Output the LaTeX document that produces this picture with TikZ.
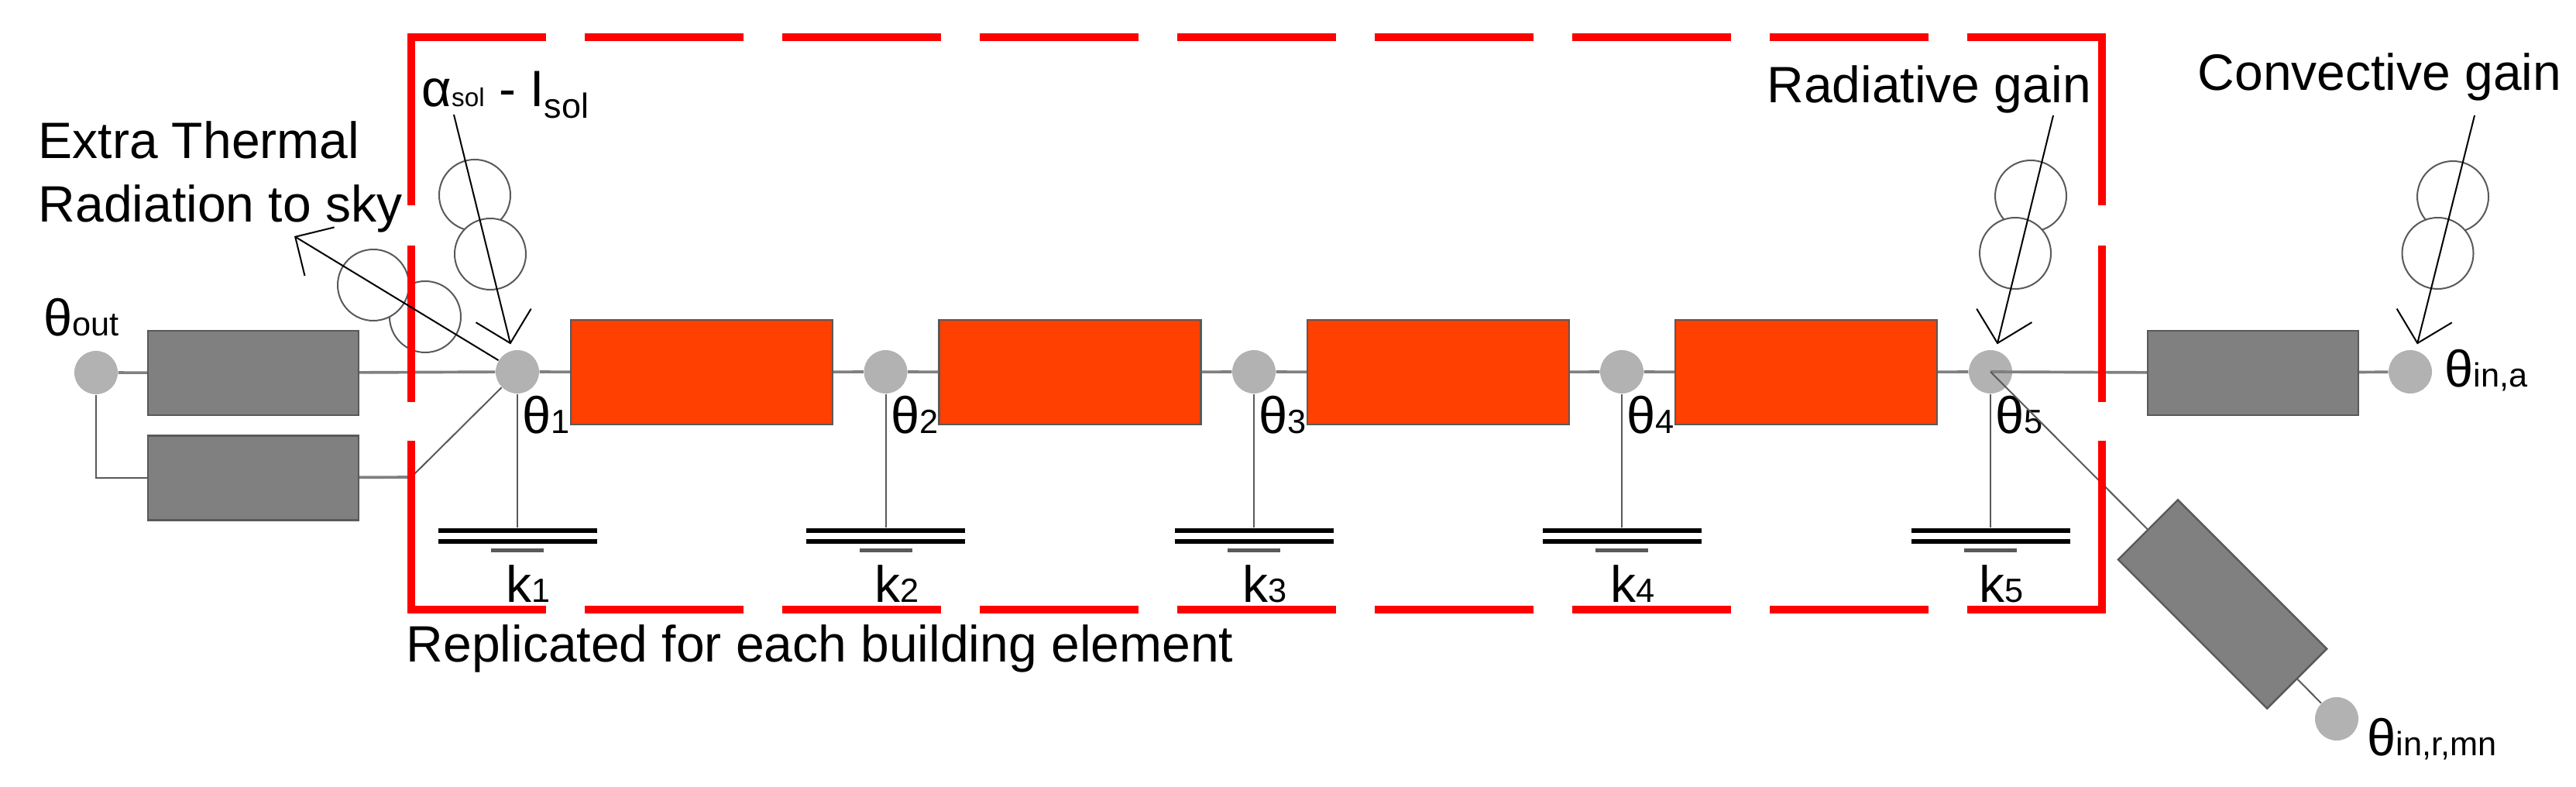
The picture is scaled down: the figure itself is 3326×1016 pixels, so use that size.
\documentclass[tikz,border=0pt]{standalone}
\usepackage{fontspec}
\setmainfont{Liberation Sans}
\usetikzlibrary{arrows.meta}

\definecolor{boxgrey}{HTML}{808080}
\definecolor{boxedge}{HTML}{595959}
\definecolor{nodegrey}{HTML}{B2B2B2}
\definecolor{wall}{HTML}{FF4000}

\tikzstyle{greybox} = [draw=boxedge, fill=boxgrey, line width=0.7pt, rectangle, inner sep=0pt, minimum width=81.6pt, minimum height=32.7pt]
\tikzstyle{wallbox} = [draw=boxedge, fill=wall, line width=0.7pt, rectangle, inner sep=0pt, minimum width=101.4pt, minimum height=40.5pt]
\tikzstyle{tempnode} = [circle, fill=nodegrey, inner sep=0pt, minimum size=16.8pt]
\tikzstyle{source} = [circle, draw=boxedge, fill=white, line width=0.6pt, inner sep=0pt, minimum size=27.6pt]
\tikzstyle{plate} = [fill=black, inner sep=0pt, minimum width=61.5pt, minimum height=1.8pt]
\tikzstyle{earthbar} = [fill=boxedge, inner sep=0pt, minimum width=20.4pt, minimum height=1.5pt]
\tikzstyle{wire} = [draw=boxgrey, line width=1.1pt]
\tikzstyle{thinwire} = [draw=boxedge, line width=0.6pt]
\tikzstyle{redframe} = [draw=red, line width=3pt]
\tikzstyle{gainarrow} = [draw=black, line width=0.6pt, -{Straight Barb[length=11pt,width=22pt]}]
\tikzstyle{lbl} = [inner sep=0pt, anchor=base west, font=\fontsize{19.8}{24.6}\selectfont]
\tikzstyle{symlbl} = [inner sep=0pt, anchor=base west, font=\fontsize{20}{22}\selectfont]

\newcommand{\lowtext}[1]{{\fontsize{13}{13}\selectfont #1}}

\begin{document}
\begin{tikzpicture}[x=0.3pt, y=-0.3pt]
	\useasboundingbox (0,0) rectangle (3326,1016);

	% nodes of one element
	\foreach \i/\nx in {1/668,2/1143.5,3/1619,4/2094,5/2570} {
		\node [tempnode] (t\i) at (\nx,480) {};
		\node [plate] (pa\i) at (\nx,685) {};
		\node [plate] (pb\i) at (\nx,699) {};
		\node [earthbar] (eb\i) at (\nx,711) {};
		\node [symlbl] (tl\i) at (\nx+6,560) {θ\lowtext{\i}};
		\node [lbl] (kl\i) at (\nx-15,778) {k\lowtext{\i}};
		\draw [thinwire] (t\i) -- (pa\i);
	}
	\foreach \i/\nx in {1/906,2/1381.5,3/1857,4/2332} {
		\node [wallbox] (w\i) at (\nx,480.5) {};
	}

	\node [tempnode] (tout) at (124,481) {};
	\node [tempnode] (tina) at (3112,480) {};
	\node [tempnode] (tinr) at (3017,928) {};
	\node [greybox] (gout) at (327,481.5) {};
	\node [greybox] (gsky) at (327,617) {};
	\node [greybox] (gina) at (2909,481.5) {};
	\node [greybox, rotate=-45] (ginr) at (2869.5,780) {};
	\coordinate (bend) at (531,616);

	% current sources
	\node [source] (sa) at (549,409) {};
	\node [source] (sb) at (482,368) {};
	\node [source] (sc) at (613,252) {};
	\node [source] (sd) at (633,328) {};
	\node [source] (se) at (2622,253) {};
	\node [source] (sf) at (2602,327) {};
	\node [source] (sg) at (3167,254) {};
	\node [source] (sh) at (3147.5,327) {};

	% connections
	\draw [wire] (tout) -- (gout);
	\draw [wire] (gout) -- (t1);
	\draw [thinwire] (tout) |- (gsky);
	\draw [wire] (gsky) -- (bend);
	\draw [thinwire] (bend) -- (t1);
	\foreach \i/\j in {1/2,2/3,3/4,4/5} {
		\draw [wire] (t\i) -- (w\i);
		\draw [wire] (w\i) -- (t\j);
	}
	\draw [wire] (t5.center) -- (gina);
	\draw [wire] (gina) -- (tina);
	\draw [thinwire] (t5.center) -- (ginr.west);
	\draw [thinwire] (ginr.east) -- (tinr);

	% frame
	\draw [redframe, dash pattern=on 61.5pt off 15pt, dash phase=7.8pt] (526,48) -- (2719,48);
	\draw [redframe, dash pattern=on 61.5pt off 15pt, dash phase=7.8pt] (526,787) -- (2719,787);
	\draw [redframe, dash pattern=on 66.3pt off 15.6pt on 60.6pt off 15pt on 70pt off 1pt] (531,44) -- (531,791);
	\draw [redframe, dash pattern=on 66.3pt off 15.6pt on 60.6pt off 15pt on 70pt off 1pt] (2714,44) -- (2714,791);

	% gains
	\coordinate (skyend) at (380,305);
	\coordinate (solstart) at (586,148);
	\coordinate (radstart) at (2651,149);
	\coordinate (convstart) at (3195,149);
	\draw [gainarrow] (t1) -- (skyend);
	\draw [gainarrow, shorten >=2.4pt] (solstart) -- (t1);
	\draw [gainarrow, shorten >=2.4pt] (radstart) -- (t5);
	\draw [gainarrow, shorten >=2.4pt] (convstart) -- (tina);

	% labels
	\node [symlbl] (lout) at (56,434) {θ\lowtext{out}};
	\node [symlbl] (lina) at (3156,500) {θ\lowtext{in,a}};
	\node [symlbl] (linr) at (3056,975) {θ\lowtext{in,r,mn}};
	\node [lbl] (lsol) at (544,138) {{\fontsize{20}{22}\selectfont α}{\fontsize{10}{10}\selectfont sol} - I\raisebox{-4.5pt}{\fontsize{13.5}{13.5}\selectfont sol}};
	\node [lbl, align=left, anchor=north west] (lsky) at (49,156) {Extra Thermal\\Radiation to sky};
	\node [lbl, anchor=base east] (lrad) at (2700.5,133) {Radiative gain};
	\node [lbl] (lconv) at (2837,117) {Convective gain};
	\node [lbl] (lrep) at (524,854) {Replicated for each building element};
\end{tikzpicture}
\end{document}
